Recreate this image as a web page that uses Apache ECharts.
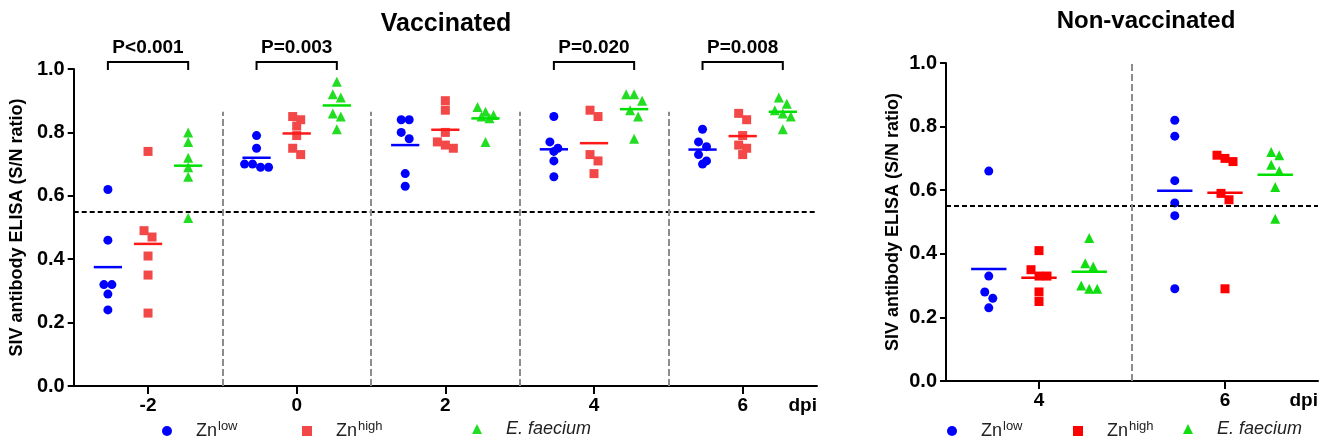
<!DOCTYPE html>
<html>
<head>
<meta charset="utf-8">
<script src="https://cdn.jsdelivr.net/npm/echarts@6/dist/echarts.min.js"></script>
<style>
  html, body { margin: 0; padding: 0; background: #fff; }
  #main { width: 1329px; height: 444px; }
</style>
</head>
<body>
<div id="main"></div>
<script>
// vaccinated panel, days post infection
var dpiVac = [-2, 0, 2, 4, 6];
var vacZnLow = [
  [0.62, 0.46, 0.32, 0.32, 0.29, 0.24],
  [0.79, 0.75, 0.70, 0.70, 0.69, 0.69],
  [0.84, 0.84, 0.80, 0.78, 0.67, 0.63],
  [0.85, 0.77, 0.75, 0.74, 0.71, 0.66],
  [0.81, 0.77, 0.755, 0.73, 0.71, 0.70]
];
var vacZnHigh = [
  [0.74, 0.49, 0.47, 0.41, 0.35, 0.23],
  [0.85, 0.84, 0.82, 0.79, 0.75, 0.73],
  [0.90, 0.87, 0.80, 0.77, 0.76, 0.75],
  [0.87, 0.85, 0.73, 0.71, 0.67],
  [0.86, 0.84, 0.79, 0.76, 0.75, 0.73]
];
var vacFaecium = [
  [0.80, 0.77, 0.72, 0.69, 0.66, 0.53],
  [0.96, 0.92, 0.91, 0.86, 0.85, 0.81],
  [0.88, 0.865, 0.855, 0.85, 0.845, 0.77],
  [0.92, 0.92, 0.90, 0.87, 0.85, 0.78],
  [0.91, 0.89, 0.87, 0.86, 0.85, 0.81]
];
var pValues = ['P<0.001', 'P=0.003', '', 'P=0.020', 'P=0.008'];

// non-vaccinated panel
var dpiNon = [4, 6];
var nonZnLow = [
  [0.66, 0.33, 0.28, 0.26, 0.23],
  [0.82, 0.77, 0.63, 0.56, 0.52, 0.29]
];
var nonZnHigh = [
  [0.41, 0.35, 0.33, 0.33, 0.28, 0.25],
  [0.71, 0.70, 0.69, 0.59, 0.57, 0.29]
];
var nonFaecium = [
  [0.45, 0.37, 0.36, 0.30, 0.29, 0.29],
  [0.72, 0.71, 0.68, 0.66, 0.61, 0.51]
];

var cutoff = 0.55;
var yTicks = [0, 0.2, 0.4, 0.6, 0.8, 1.0];
var groupNames = ['Znlow', 'Znhigh', 'E. faecium'];

var FONT = "'Liberation Sans', Arial, sans-serif";
var OFFSET = 0.54;   // shift of each group from the dpi tick
var HALF = 0.19;     // half width of mean bar
var STEP = 8, GAP = 8;

var chart = echarts.init(document.getElementById('main'));

// spread points with close values side by side (column scatter)
function swarm(vals, cx, unitX, unitY) {
  var sorted = vals.slice().sort(function (a, b) { return b - a; });
  var out = [], bin = [];
  function flush() {
    bin.forEach(function (v, k) {
      out.push([cx + (k - (bin.length - 1) / 2) * STEP / unitX, v]);
    });
    bin = [];
  }
  sorted.forEach(function (v) {
    if (bin.length && (bin[0] - v) * unitY > GAP) flush();
    bin.push(v);
  });
  flush();
  return out;
}

function mean(a) {
  return a.reduce(function (s, v) { return s + v; }, 0) / a.length;
}

var grids = [
  { left: 73, top: 69, width: 744, height: 317, xmin: -3, xmax: 7, dpi: dpiVac,
    sets: [vacZnLow, vacZnHigh, vacFaecium],
    colors: ['#0000ff', '#f24848', '#22dd22'],
    lineColors: ['#0000ff', '#ff1a1a', '#00e000'] },
  { left: 946, top: 63, width: 372, height: 318, xmin: 3, xmax: 7, dpi: dpiNon,
    sets: [nonZnLow, nonZnHigh, nonFaecium],
    colors: ['#0000ff', '#ff0000', '#11dd11'],
    lineColors: ['#0000ff', '#ff0000', '#00e000'] }
];
var symbols = ['circle', 'rect', 'triangle'];
var symbolSizes = [9, 9, 10];

var series = [];
grids.forEach(function (g, gi) {
  var unitX = g.width / (g.xmax - g.xmin), unitY = g.height;
  g.sets.forEach(function (set, si) {
    var pts = [];
    set.forEach(function (vals, di) {
      pts = pts.concat(swarm(vals, g.dpi[di] + (si - 1) * OFFSET, unitX, unitY));
    });
    series.push({
      type: 'scatter', name: groupNames[si], xAxisIndex: gi, yAxisIndex: gi,
      symbol: symbols[si], symbolSize: symbolSizes[si],
      itemStyle: { color: g.colors[si], opacity: 1 },
      data: pts, z: 3
    });
    series.push({
      type: 'custom', xAxisIndex: gi, yAxisIndex: gi, z: 4,
      data: set.map(function (vals, di) { return [g.dpi[di] + (si - 1) * OFFSET, mean(vals)]; }),
      renderItem: (function (color) {
        return function (params, api) {
          var a = api.coord([api.value(0) - HALF, api.value(1)]);
          var b = api.coord([api.value(0) + HALF, api.value(1)]);
          return { type: 'line', shape: { x1: a[0], y1: a[1], x2: b[0], y2: b[1] },
                   style: { stroke: color, lineWidth: 2.5 } };
        };
      })(g.lineColors[si])
    });
  });
  // cut-off and day separators
  var marks = [{ yAxis: cutoff, lineStyle: { color: '#000', type: [5, 3], width: 2 } }];
  var sepTop = gi === 0 ? 0.865 : 1.0;
  for (var i = 0; i < g.dpi.length - 1; i++) {
    var xs = (g.dpi[i] + g.dpi[i + 1]) / 2;
    marks.push([{ coord: [xs, 0], lineStyle: { color: '#8c8c8c', type: [7, 3], width: 2 } },
                { coord: [xs, sepTop] }]);
  }
  series.push({
    type: 'line', xAxisIndex: gi, yAxisIndex: gi, data: [], z: 2,
    markLine: { silent: true, symbol: 'none', label: { show: false }, animation: false, data: marks }
  });
});

// significance brackets above the vaccinated panel
series.push({
  type: 'custom', xAxisIndex: 0, yAxisIndex: 0, z: 5,
  data: dpiVac.map(function (d, i) { return [d, i]; }).filter(function (p) { return pValues[p[1]]; }),
  encode: { x: 0 },
  renderItem: function (params, api) {
    var x = api.value(0), label = pValues[api.value(1)];
    var l = api.coord([x - OFFSET, 1]), r = api.coord([x + OFFSET, 1]);
    var y0 = l[1] + 1, y1 = l[1] - 7;
    return {
      type: 'group',
      children: [
        { type: 'polyline', shape: { points: [[l[0], y0], [l[0], y1], [r[0], y1], [r[0], y0]] },
          style: { stroke: '#000', lineWidth: 2, fill: null } },
        { type: 'text', x: (l[0] + r[0]) / 2, y: y1 - 14,
          style: { text: label, fill: '#000', font: 'bold 19px ' + FONT, align: 'center', verticalAlign: 'middle' } }
      ]
    };
  }
});

function yAxis(gi) {
  return {
    gridIndex: gi, type: 'value', min: 0, max: 1,
    axisLine: { show: true, onZero: false, lineStyle: { color: '#000', width: 2 } },
    axisTick: { show: true, length: 6, lineStyle: { color: '#000', width: 2 }, customValues: yTicks },
    axisLabel: { customValues: yTicks, formatter: function (v) { return v.toFixed(1); },
                 fontSize: 20, fontWeight: 'bold', color: '#000', margin: 9, fontFamily: FONT },
    splitLine: { show: false },
    name: 'SIV antibody ELISA (S/N ratio)', nameLocation: 'middle', nameGap: 44,
    nameTextStyle: { fontSize: 18, fontWeight: 'bold', color: '#000', fontFamily: FONT }
  };
}
function xAxis(gi) {
  var g = grids[gi];
  return {
    gridIndex: gi, type: 'value', min: g.xmin, max: g.xmax,
    axisLine: { show: true, onZero: false, lineStyle: { color: '#000', width: 2 } },
    axisTick: { show: true, length: 8, lineStyle: { color: '#000', width: 2 }, customValues: g.dpi },
    axisLabel: { customValues: g.dpi, fontSize: 19, fontWeight: 'bold', color: '#000', margin: 10, fontFamily: FONT },
    splitLine: { show: false },
    name: 'dpi', nameLocation: 'end', nameGap: 0,
    nameTextStyle: { fontSize: 19, fontWeight: 'bold', color: '#000', fontFamily: FONT,
                     align: 'right', verticalAlign: 'top', padding: [10, 0, 0, 0] }
  };
}

// legends, one item each so the spacing can follow the figure
var legendLeft = [[157, 297, 467], [942, 1068, 1178]];
var legends = [];
legendLeft.forEach(function (row, gi) {
  row.forEach(function (left, si) {
    legends.push({
      left: left, top: 415, itemWidth: 10, itemHeight: 10, selectedMode: false,
      data: [{ name: groupNames[si], icon: symbols[si],
               itemStyle: { color: grids[gi].colors[si] } }],
      formatter: function (name) {
        if (name === 'E. faecium') return '{g|}{i|E. faecium}';
        return '{g|}{t|Zn}{s|' + (name === 'Znlow' ? 'low' : 'high') + '}';
      },
      textStyle: {
        rich: {
          g: { width: 19 },
          t: { fontSize: 18, color: '#222', fontFamily: FONT },
          s: { fontSize: 13, color: '#222', fontFamily: FONT, padding: [0, 0, 9, 1] },
          i: { fontSize: 18, color: '#222', fontFamily: FONT, fontStyle: 'italic' }
        }
      }
    });
  });
});

chart.setOption({
  animation: false,
  backgroundColor: '#fff',
  title: [
    { text: 'Vaccinated', left: 441, top: 7, textAlign: 'center',
      textStyle: { fontSize: 25, fontWeight: 'bold', color: '#000', fontFamily: FONT } },
    { text: 'Non-vaccinated', left: 1141, top: 4, textAlign: 'center',
      textStyle: { fontSize: 24, fontWeight: 'bold', color: '#000', fontFamily: FONT } }
  ],
  grid: grids.map(function (g) { return { left: g.left, top: g.top, width: g.width, height: g.height }; }),
  xAxis: [xAxis(0), xAxis(1)],
  yAxis: [yAxis(0), yAxis(1)],
  legend: legends,
  series: series
});
</script>
</body>
</html>
